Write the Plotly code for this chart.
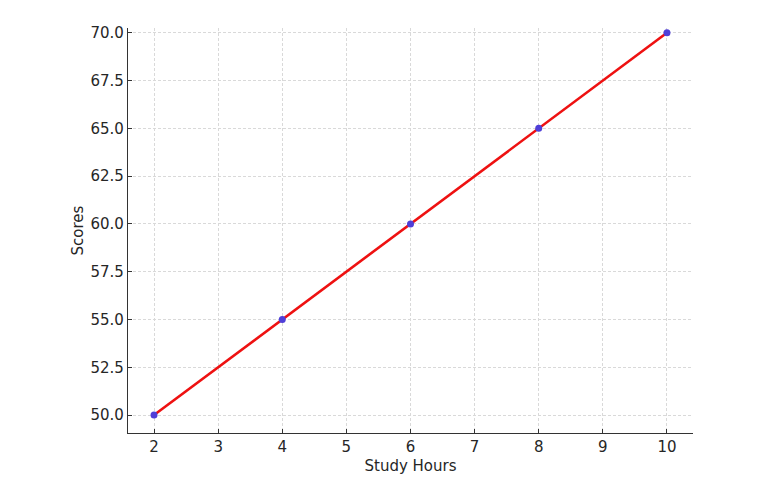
import plotly.graph_objects as go

study_hours = [2, 4, 6, 8, 10]
scores = [50, 55, 60, 65, 70]
x_ticks = [2, 3, 4, 5, 6, 7, 8, 9, 10]
y_ticks = [50.0, 52.5, 55.0, 57.5, 60.0, 62.5, 65.0, 67.5, 70.0]

fig = go.Figure()
fig.add_trace(go.Scatter(
    x=study_hours, y=scores, mode="lines+markers",
    line=dict(color="#ee1111", width=2.6),
    marker=dict(color="#4f3fd8", size=7, line=dict(width=0)),
    showlegend=False,
))

txt = "#262626"
font = dict(family="DejaVu Sans", size=15, color=txt)
fig.update_layout(
    width=777, height=482,
    margin=dict(l=120, r=92, t=20, b=57),
    paper_bgcolor="white", plot_bgcolor="white",
    font=font,
    xaxis=dict(
        range=[1.594, 10.406], tickvals=x_ticks, ticktext=[str(v) for v in x_ticks],
        showgrid=True, gridcolor="#d9d9d9", griddash="3px,2px", gridwidth=0.8,
        showline=True, linecolor="#333333", linewidth=1.2,
        ticks="inside", ticklen=4, tickcolor="#333333",
        zeroline=False,
        title=dict(text="Study Hours", font=dict(family="DejaVu Sans", size=15, color=txt), standoff=5),
    ),
    yaxis=dict(
        range=[49.06, 70.25], tickvals=y_ticks, ticktext=[f"{v:.1f}" for v in y_ticks],
        showgrid=True, gridcolor="#d9d9d9", griddash="3px,2px", gridwidth=0.8,
        showline=True, linecolor="#333333", linewidth=1.2,
        ticks="inside", ticklen=4, tickcolor="#333333",
        zeroline=False,
        title=dict(text="Scores", font=dict(family="DejaVu Sans", size=15, color=txt), standoff=3),
    ),
)
fig.write_html("out.html")
